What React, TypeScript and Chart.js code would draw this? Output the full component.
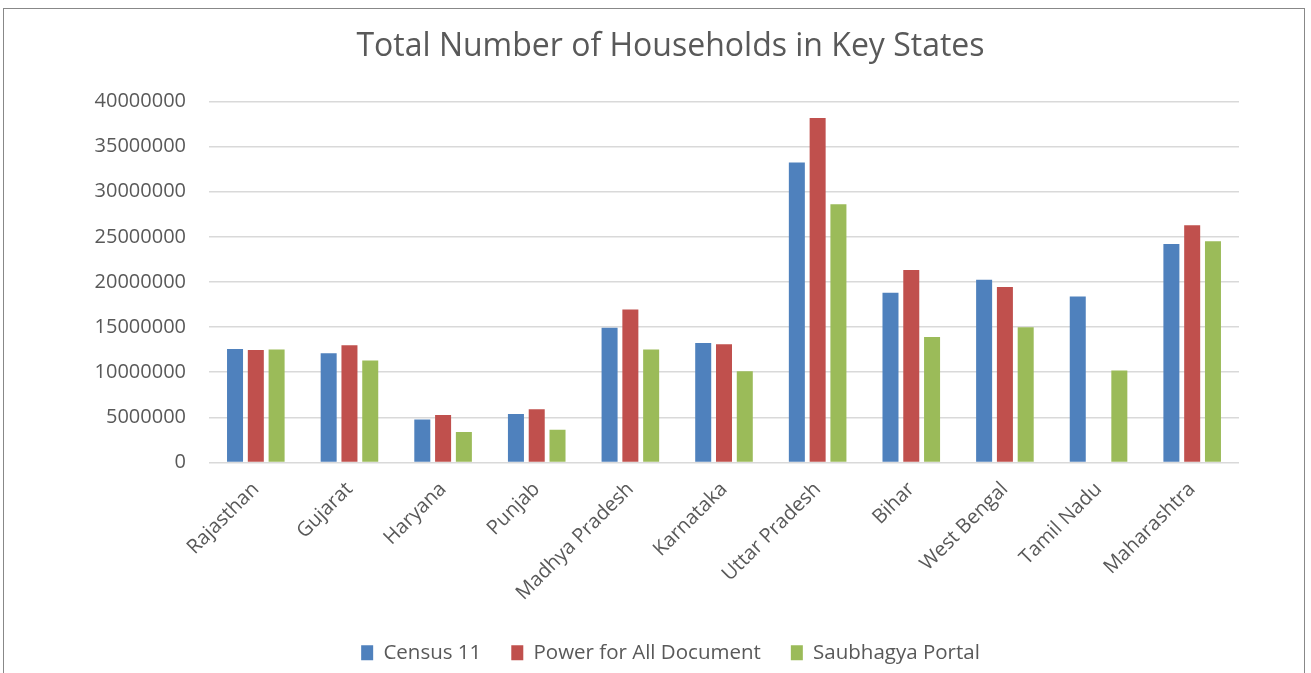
import React, { useEffect, useRef } from "react";
import { Chart, registerables } from "chart.js";

Chart.register(...registerables);

const categories = [
  "Rajasthan", "Gujarat", "Haryana", "Punjab", "Madhya Pradesh", "Karnataka",
  "Uttar Pradesh", "Bihar", "West Bengal", "Tamil Nadu", "Maharashtra",
];
const census11 = [12570000, 12090000, 4750000, 5380000, 14940000, 13240000, 33220000, 18800000, 20240000, 18390000, 24210000];
const powerForAll = [12460000, 12980000, 5270000, 5900000, 16940000, 13090000, 38150000, 21320000, 19430000, null, 26290000];
const saubhagya = [12530000, 11310000, 3370000, 3630000, 12530000, 10120000, 28620000, 13900000, 14980000, 10200000, 24510000];
const seriesNames = ["Census 11", "Power for All Document", "Saubhagya Portal"];
const seriesColors = ["#4F81BD", "#C0504D", "#9BBB59"];
const titleText = "Total Number of Households in Key States";

const FONT = "'Open Sans', sans-serif";
const GREY = "#595959";

export default function App() {
  const ref = useRef<HTMLCanvasElement | null>(null);
  useEffect(() => {
    document.body.style.margin = "0";
    if (!ref.current) return;
    const values = [census11, powerForAll, saubhagya];
    const chart = new Chart(ref.current, {
      type: "bar",
      data: {
        labels: categories,
        datasets: seriesNames.map((name, i) => ({
          label: name,
          data: values[i],
          backgroundColor: seriesColors[i],
          borderWidth: 0,
          barPercentage: 0.77,
          categoryPercentage: 0.666,
        })),
      },
      options: {
        animation: false,
        responsive: false,
        maintainAspectRatio: false,
        layout: { padding: { left: 30, right: 0, top: 28, bottom: 0 } },
        plugins: {
          title: {
            display: true,
            text: titleText,
            color: GREY,
            font: { family: FONT, size: 32, weight: "normal" },
            padding: { top: 0, bottom: 35 },
          },
          legend: {
            position: "bottom",
            labels: {
              color: GREY,
              font: { family: FONT, size: 20.5 },
              boxWidth: 12,
              boxHeight: 15,
              padding: 30,
            },
          },
          tooltip: { enabled: false },
        },
        scales: {
          x: {
            grid: { display: false },
            border: { display: false },
            ticks: {
              color: GREY,
              font: { family: FONT, size: 20 },
              maxRotation: 45,
              minRotation: 45,
              autoSkip: false,
              padding: 7,
            },
            afterFit: (s: any) => { s.height = 150; },
          },
          y: {
            min: 0,
            max: 40000000,
            grid: { color: "#D9D9D9", lineWidth: 1.5, drawTicks: false },
            border: { display: false },
            ticks: {
              stepSize: 5000000,
              color: GREY,
              font: { family: FONT, size: 20 },
              padding: 23,
              callback: (v: any) => String(v),
            },
            afterFit: (s: any) => { s.width = 179; },
          },
          y2: {
            position: "right",
            display: true,
            grid: { display: false },
            border: { display: false },
            ticks: { display: false },
            afterFit: (s: any) => { s.width = 72; },
          },
        },
      },
    });
    return () => chart.destroy();
  }, []);
  return (
    <div style={{ position: "relative", width: 1311, height: 673, background: "#fff" }}>
      <div style={{ position: "absolute", left: 3, top: 8, width: 1302, height: 680, border: "1px solid #888", borderBottom: "none", boxSizing: "border-box" }} />
      <canvas ref={ref} width={1311} height={673} style={{ position: "absolute", left: 0, top: 0 }} />
    </div>
  );
}
